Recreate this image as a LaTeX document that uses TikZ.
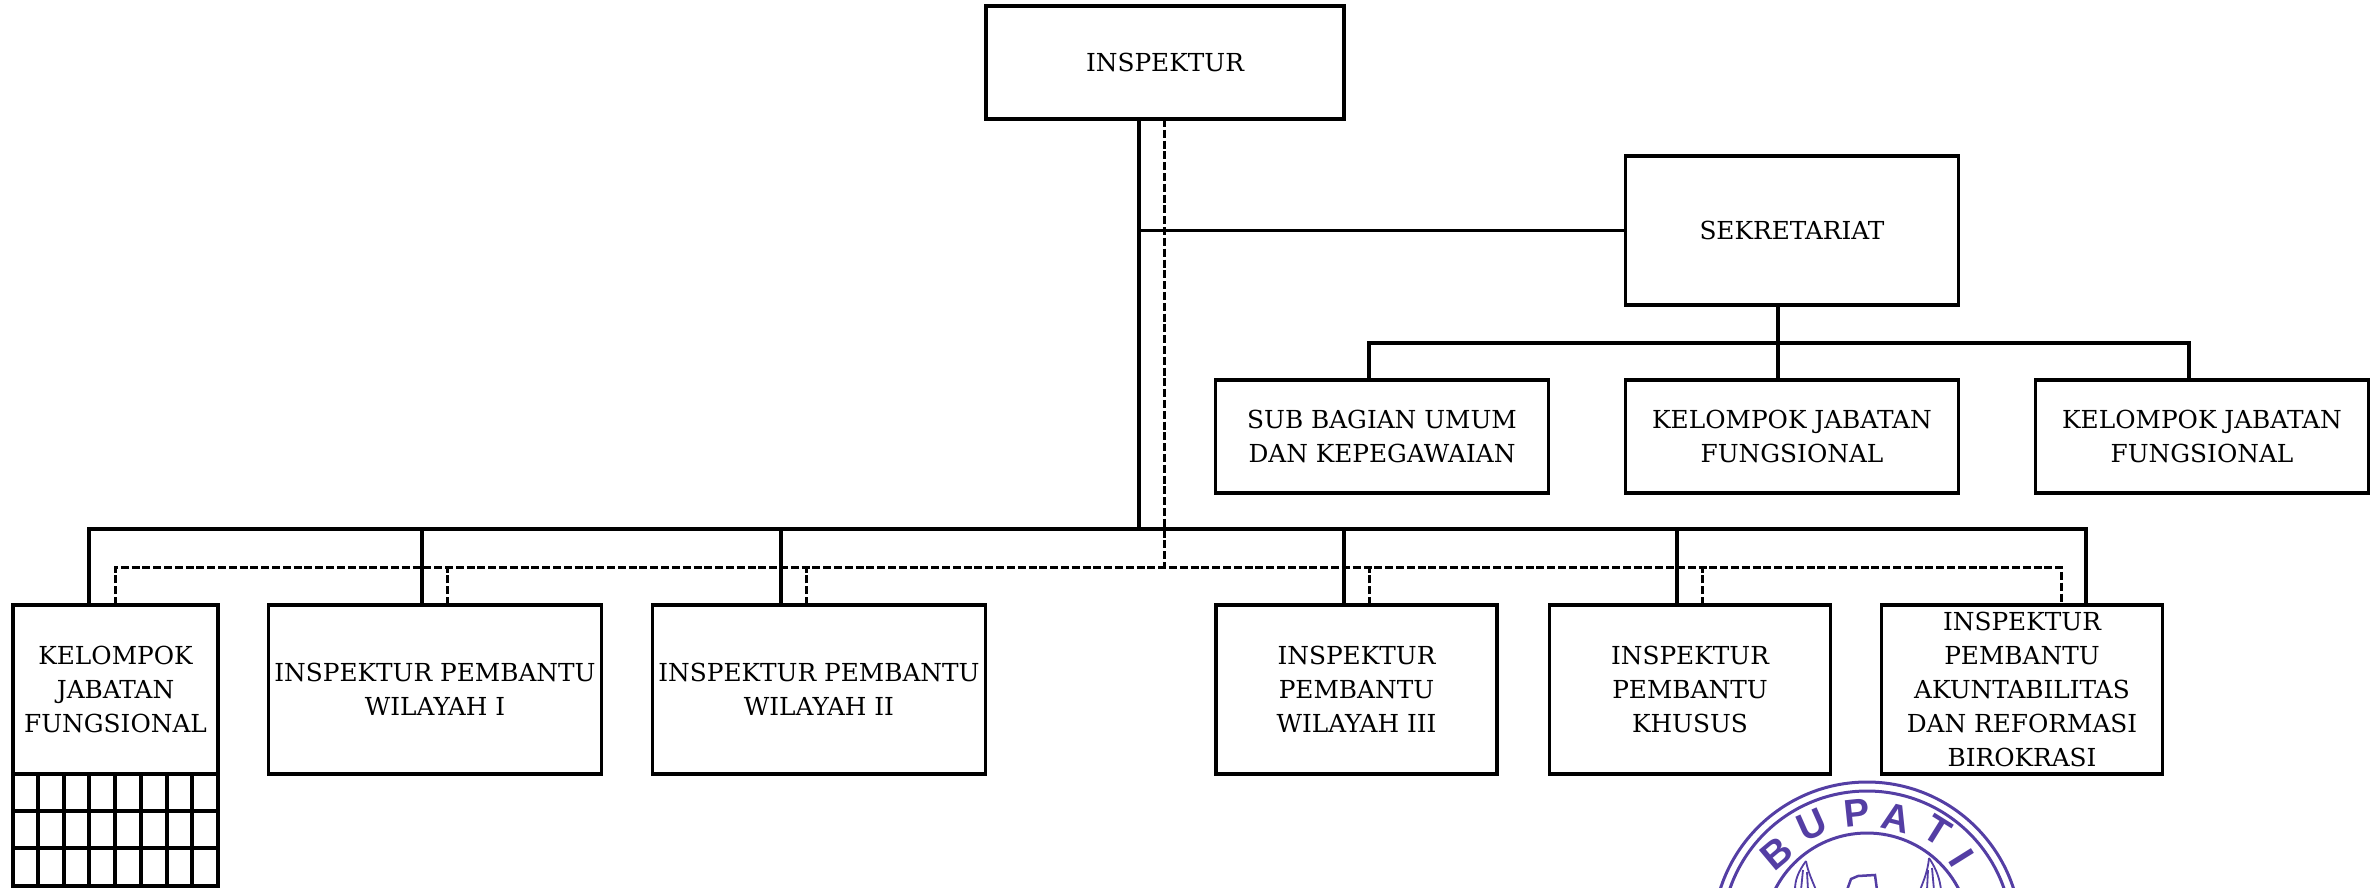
\documentclass[tikz,border=0pt]{standalone}
\usepackage{fontspec}
\setmainfont{DejaVu Serif}
\newfontfamily\stampfont{Liberation Sans}
\usepackage{xcolor}
\definecolor{stamp}{RGB}{84,62,164}
\tikzset{
  box/.style={draw,line width=0.033cm,inner sep=0pt,outer sep=0pt,align=center,
    font=\fontsize{7.05}{9.65}\selectfont},
  conn/.style={line width=0.033cm},
  dashconn/.style={line width=0.03cm,dash pattern=on 0.08cm off 0.028cm},
  ring/.style={stamp,line width=0.03cm},
  wing/.style={stamp,line width=0.018cm},
  stampletter/.style={stamp,font=\fontsize{11}{11}\selectfont\bfseries\stampfont,inner sep=0pt}
}

\begin{document}
\begin{tikzpicture}[x=0.01cm,y=-0.01cm]
    \useasboundingbox (0,0) rectangle (2377,887);
    % upper part
    \node[box,minimum width=3.58cm,minimum height=1.13cm] (inspektur) at (1165,62.5) {INSPEKTUR};
    \node[box,minimum width=3.33cm,minimum height=1.49cm] (sekretariat) at (1792,230.5) {SEKRETARIAT};
    \node[box,minimum width=3.33cm,minimum height=1.13cm] (subbag) at (1382,436.5) {SUB BAGIAN UMUM\\DAN KEPEGAWAIAN};
    \node[box,minimum width=3.33cm,minimum height=1.13cm] (kjf1) at (1792,436.5) {KELOMPOK JABATAN\\FUNGSIONAL};
    \node[box,minimum width=3.33cm,minimum height=1.13cm] (kjf2) at (2202,436.5) {KELOMPOK JABATAN\\FUNGSIONAL};
    % lower row
    \node[box,minimum width=2.05cm,minimum height=1.69cm] (kjf3) at (115.5,689.5) {KELOMPOK\\JABATAN\\FUNGSIONAL};
    \node[box,minimum width=3.33cm,minimum height=1.69cm] (wil1) at (435,689.5) {INSPEKTUR PEMBANTU\\WILAYAH I};
    \node[box,minimum width=3.33cm,minimum height=1.69cm] (wil2) at (819,689.5) {INSPEKTUR PEMBANTU\\WILAYAH II};
    \node[box,minimum width=2.81cm,minimum height=1.69cm] (wil3) at (1356.5,689.5) {INSPEKTUR\\PEMBANTU\\WILAYAH III};
    \node[box,minimum width=2.81cm,minimum height=1.69cm] (khusus) at (1690,689.5) {INSPEKTUR\\PEMBANTU\\KHUSUS};
    \node[box,minimum width=2.81cm,minimum height=1.69cm] (akun) at (2022,689.5) {INSPEKTUR\\PEMBANTU\\AKUNTABILITAS\\DAN REFORMASI\\BIROKRASI};

    % junctions
    \coordinate (trunk) at (1139,529);
    \coordinate (dtrunk) at (1164,567);
    \coordinate (bus) at (1778,343);

    % solid lines
    \draw[conn] (inspektur.south -| trunk) -- (trunk);
    \draw[conn] (trunk |- sekretariat.west) -- (sekretariat.west);
    \draw[conn] (sekretariat.south -| bus) -- (bus);
    \draw[conn] (subbag.north -| 1369,0) |- (bus) -| (kjf2.north -| 2189,0);
    \draw[conn] (bus) -- (kjf1.north -| bus);
    \draw[conn] (kjf3.north -| 89,0) |- (trunk) -| (akun.north -| 2086,0);
    \draw[conn] (wil1.north -| 422,0) -- (422,529);
    \draw[conn] (wil2.north -| 781,0) -- (781,529);
    \draw[conn] (wil3.north -| 1344,0) -- (1344,529);
    \draw[conn] (khusus.north -| 1677,0) -- (1677,529);

    % dashed lines
    \draw[dashconn] (inspektur.south -| dtrunk) -- (dtrunk);
    \draw[dashconn] (kjf3.north) |- (dtrunk) -| (akun.north -| 2061,0);
    \draw[dashconn] (wil1.north -| 447,0) -- (447,567);
    \draw[dashconn] (wil2.north -| 806,0) -- (806,567);
    \draw[dashconn] (wil3.north -| 1369,0) -- (1369,567);
    \draw[dashconn] (khusus.north -| 1702,0) -- (1702,567);

    % table under the left box
    \draw[conn] (13,774) rectangle (218,886);
    \draw[conn] (13,811) -- (218,811) (13,848) -- (218,848);
    \draw[conn] (38,774) -- (38,886) (64,774) -- (64,886) (89,774) -- (89,886) (115,774) -- (115,886)
      (141,774) -- (141,886) (167,774) -- (167,886) (192,774) -- (192,886);

    % stamp
    \begin{scope}
      \clip (0,0) rectangle (2377,887);
      \draw[ring] (1867,936) circle (154);
      \draw[ring] (1867,936) circle (145);
      \draw[ring] (1867,936) circle (103);
      \draw[wing] (1806,861) .. controls (1798,872) and (1795,880) .. (1795,890);
      \draw[wing] (1806,861) .. controls (1808,872) and (1812,880) .. (1816,890);
      \draw[wing] (1803,870) -- (1801,890) (1807,872) -- (1808,890);
      \draw[wing] (1929,858) .. controls (1937,870) and (1940,880) .. (1941,890);
      \draw[wing] (1929,858) .. controls (1928,870) and (1924,880) .. (1920,890);
      \draw[wing] (1932,868) -- (1934,890) (1928,870) -- (1927,890);
      \draw[wing,line width=0.025cm] (1847,890) -- (1851,879) -- (1858,876) -- (1875,875) -- (1877,890);
    \end{scope}
    \node[stampletter,rotate=40] (sb) at (1777,853) {B};
    \node[stampletter,rotate=24] (su) at (1812,825) {U};
    \node[stampletter,rotate=6] (sp) at (1857,813) {P};
    \node[stampletter,rotate=-14] (sa) at (1896,818) {A};
    \node[stampletter,rotate=-32] (st) at (1938,830) {T};
    \node[stampletter,rotate=-58] (si) at (1962,858) {I};
\end{tikzpicture}
\end{document}
